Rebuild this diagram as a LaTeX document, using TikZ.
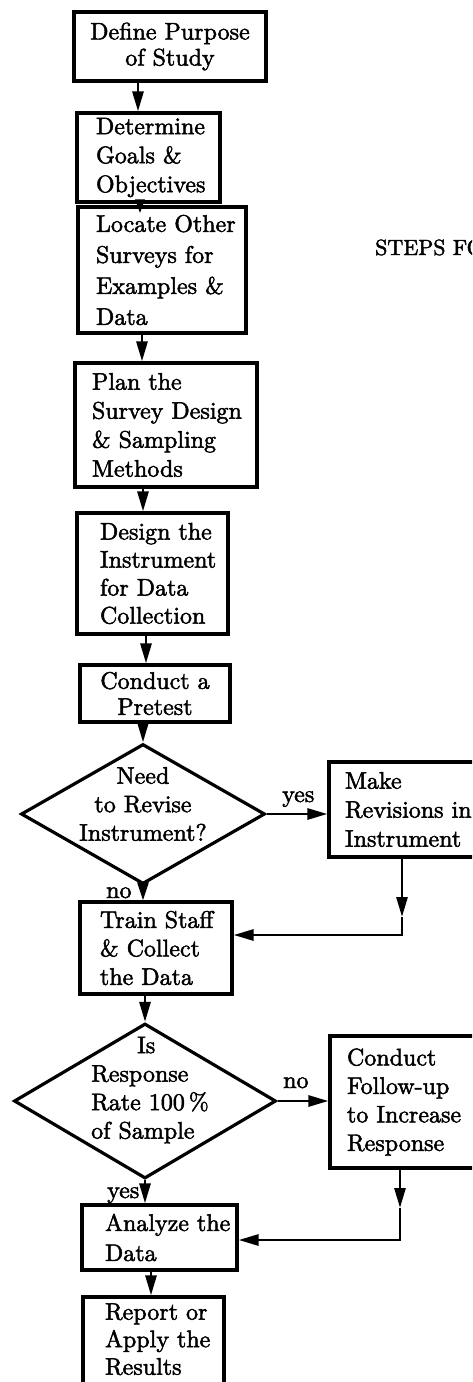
\documentclass[tikz,border=0pt]{standalone}
\usepackage{fontspec}
\setmainfont{lmroman10-regular.otf}[FakeBold=2]
\usetikzlibrary{arrows.meta,shapes.geometric}
\newcommand\bxfont[1]{\fontsize{24}{#1}\selectfont\hyphenpenalty=10000\exhyphenpenalty=10000\relax}
\begin{document}
\begin{tikzpicture}[x=1pt,y=-1pt,
  stepbox/.style={draw, line width=3.2pt, inner ysep=0pt, align=left, font={\bxfont{29}}},
  decision/.style={draw, diamond, line width=3.2pt, inner sep=0pt},
  conn/.style={line width=2.8pt, -{Triangle[length=20pt,width=11pt]}},
  lbl/.style={inner sep=0pt, font={\bxfont{29}}, anchor=base west}
]
\useasboundingbox (0,0) rectangle (472,1382);
\clip (0,0) rectangle (472,1382);

% boxes
\node[stepbox, align=center, font={\bxfont{26}}, minimum width=192pt, minimum height=69pt, inner xsep=5pt, text width=182pt] (b1) at (170,46.5) {Define~Purpose\\of~Study};
\node[stepbox, minimum width=143pt, minimum height=89pt, inner xsep=19pt, text width=105pt] (b2) at (148.5,157.5) {Determine\\Goals~\&\\Objectives};
\node[stepbox, font={\bxfont{31}}, minimum width=168pt, minimum height=126pt, inner xsep=18pt, text width=132pt] (b3) at (162,270) {Locate~Other\\Surveys~for\\Examples~\&\\Data};
\node[stepbox, minimum width=182pt, minimum height=124pt, inner xsep=17pt, text width=148pt] (b4) at (166,425) {Plan~the\\Survey~Design\\\&~Sampling\\Methods};
\node[stepbox, font={\bxfont{28}}, minimum width=151pt, minimum height=121pt, inner xsep=23pt, text width=105pt] (b5) at (152.5,573.5) {Design~the\\Instrument\\for~Data\\Collection};
\node[stepbox, align=center, font={\bxfont{26}}, minimum width=150pt, minimum height=57pt, inner xsep=5pt, text width=140pt] (b6) at (155,693.5) {Conduct~a\\Pretest};
\node[decision, minimum width=244pt, minimum height=140pt] (d1) at (143,814) {};
\node[font={\bxfont{28.5}}, align=center, inner sep=0pt] (d1t) at (143,804) {Need\\to~Revise\\Instrument?};
\node[stepbox, minimum width=161pt, minimum height=95pt, inner xsep=16pt, text width=129pt] (b7) at (409.5,809.5) {Make\\Revisions~in\\Instrument};
\node[stepbox, font={\bxfont{28.5}}, minimum width=152pt, minimum height=92pt, inner xsep=20pt, text width=112pt] (b8) at (156,948) {Train~Staff\\\&~Collect\\the~Data};
\node[decision, minimum width=262pt, minimum height=155pt] (d2) at (145,1101) {};
\node[font={\bxfont{28.5}}, align=left, inner sep=0pt, anchor=west] (d2t) at (91,1090) {\hspace*{46pt}Is\\Response\\Rate~100\,\%\\of~Sample};
\node[stepbox, font={\bxfont{28.5}}, minimum width=160pt, minimum height=132pt, inner xsep=17pt, text width=126pt] (b9) at (410,1102) {Conduct\\Follow-up\\to~Increase\\Response};
\node[stepbox, font={\bxfont{30}}, minimum width=155pt, minimum height=65pt, inner xsep=23pt, text width=109pt] (b10) at (159.5,1237.5) {Analyze~the\\Data};
\node[stepbox, font={\bxfont{27.5}}, minimum width=141pt, minimum height=103pt, inner xsep=22pt, text width=97pt] (b11) at (153.5,1348.5) {Report~or\\Apply~the\\Results\rule[-19pt]{0pt}{0pt}};

% labels
\node[lbl] (yes1) at (282,802) {yes};
\node[lbl] (no1) at (106,898) {no};
\node[lbl] (no2) at (283,1088) {no};
\node[lbl] (yes2) at (107,1198) {yes};
\node[lbl, font={\fontsize{22}{26}\selectfont}] (title) at (375,255) {STEPS FO};

% spine coordinates
\coordinate (s1) at (138,0);
\coordinate (s2) at (140,0);
\coordinate (s3) at (142,0);
\coordinate (s4) at (143,0);
\coordinate (s5) at (146,0);
\coordinate (s6) at (151,0);
\coordinate (r1) at (402,917);
\coordinate (r1c) at (402,935);
\coordinate (r2) at (400,1208);
\coordinate (r2c) at (400,1240);

% connectors
\draw[conn] (s1 |- b1.south) -- (s1 |- b2.north);
\draw[line width=2.8pt, -{Triangle[length=14pt,width=9pt]}, shorten >=-8pt] (s2 |- b2.south) -- (s2 |- b3.north);
\draw[conn] (s3 |- b3.south) -- (s3 |- b4.north);
\draw[conn] (s4 |- b4.south) -- (s4 |- b5.north);
\draw[conn] (s5 |- b5.south) -- (s5 |- b6.north);
\draw[conn] (d1.north |- b6.south) -- (d1.north);
\draw[line width=2.8pt, -{Triangle[length=18pt,width=11pt]}] (d1.south) -- (d1.south |- b8.north);
\draw[conn] (d1.east) -- (d1.east -| b7.west);
\draw[conn] (r1 |- b7.south) -- (r1);
\draw[conn] (r1) -- (r1c) -- (r1c -| b8.east);
\draw[conn] (d2.north |- b8.south) -- (d2.north);
\draw[conn] (d2.south) -- (d2.south |- b10.north);
\draw[conn] (d2.east) -- (d2.east -| b9.west);
\draw[conn] (r2 |- b9.south) -- (r2);
\draw[conn] (r2) -- (r2c) -- (r2c -| b10.east);
\draw[conn] (s6 |- b10.south) -- (s6 |- b11.north);
\end{tikzpicture}
\end{document}
